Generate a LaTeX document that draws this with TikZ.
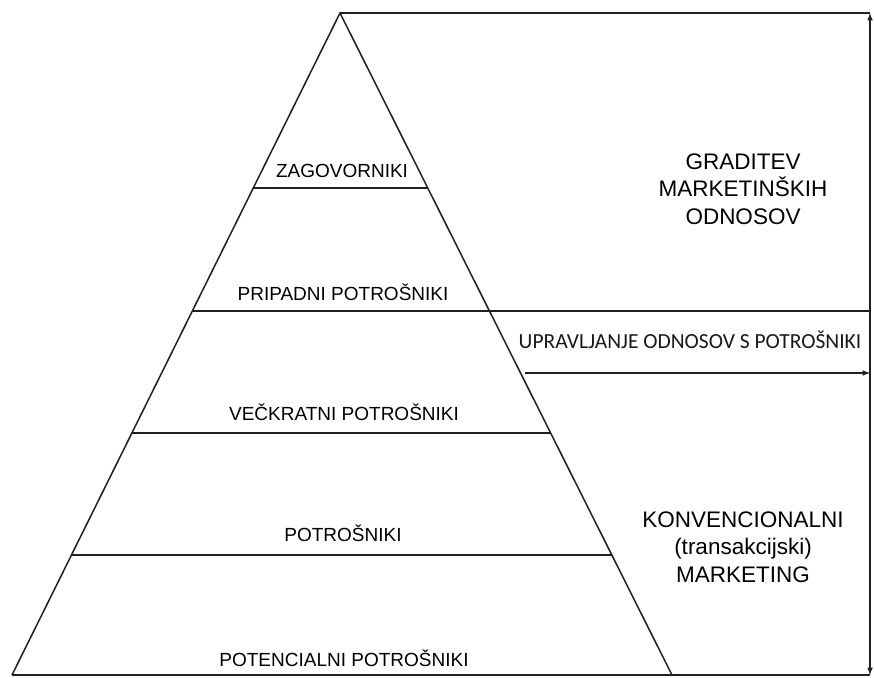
\documentclass[tikz,border=0pt]{standalone}
\usepackage{fontspec}
\setmainfont{Liberation Sans}
\newfontfamily\calibri{Carlito}
\usetikzlibrary{calc}

\tikzset{
  rob/.style={line width=1.5pt, color=black!88},
  nivo/.style={font=\fontsize{19}{22}\selectfont, text=black},
  opis/.style={font=\fontsize{22.5}{27.5}\selectfont, align=center, text=black},
  srednji/.style={font=\calibri\fontsize{21.5}{25}\selectfont, text=black!90}
}

\begin{document}
\begin{tikzpicture}[x=1pt, y=-1pt]
  %%%%% START %%%%%
  \useasboundingbox (0,0) rectangle (874,677);

  \coordinate (vrh) at (340, 13);
  \coordinate (levo) at (12, 675);
  \coordinate (desno) at (672, 675);
  \coordinate (zgoraj) at (870, 13);
  \coordinate (spodaj) at (870, 675);

  % piramida
  \draw[rob] (levo) -- (vrh) -- (desno);
  \draw[rob] (levo) -- (spodaj);
  \draw[rob] (vrh) -- (zgoraj);
  \draw[rob, -latex] ($(zgoraj)!0.5!(spodaj)$) -- (zgoraj);
  \draw[rob, -latex] ($(zgoraj)!0.5!(spodaj)$) -- (spodaj);

  % nivoji
  \coordinate (n1l) at ($(vrh)!0.2644!(levo)$);
  \coordinate (n1d) at ($(vrh)!0.2644!(desno)$);
  \coordinate (n2l) at ($(vrh)!0.4502!(levo)$);
  \coordinate (n3l) at ($(vrh)!0.6344!(levo)$);
  \coordinate (n3d) at ($(vrh)!0.6344!(desno)$);
  \coordinate (n4l) at ($(vrh)!0.8187!(levo)$);
  \coordinate (n4d) at ($(vrh)!0.8187!(desno)$);

  \draw[rob] (n1l) -- (n1d);
  \draw[rob] (n2l) -- (n2l -| spodaj);
  \draw[rob] (n3l) -- (n3d);
  \draw[rob] (n4l) -- (n4d);

  \coordinate (puscica) at (525, 373);
  \draw[rob, -latex] (puscica) -- (puscica -| spodaj);

  % napisi v piramidi
  \node[nivo] (zagovorniki) at (342, 171) {ZAGOVORNIKI};
  \node[nivo] (pripadni) at (343, 292) {PRIPADNI POTROŠNIKI};
  \node[nivo] (veckratni) at (344, 412) {VEČKRATNI POTROŠNIKI};
  \node[nivo] (potrosniki) at (343, 533) {POTROŠNIKI};
  \node[nivo] (potencialni) at (344, 658) {POTENCIALNI POTROŠNIKI};

  % napisi desno
  \node[opis] (graditev) at (743, 189) {GRADITEV\\MARKETINŠKIH\\ODNOSOV};
  \node[srednji] (upravljanje) at (690, 340) {UPRAVLJANJE ODNOSOV S POTROŠNIKI};
  \node[opis] (konvencionalni) at (743, 547) {KONVENCIONALNI\\(transakcijski)\\MARKETING};

  %%%%% END %%%%%
\end{tikzpicture}
\end{document}
